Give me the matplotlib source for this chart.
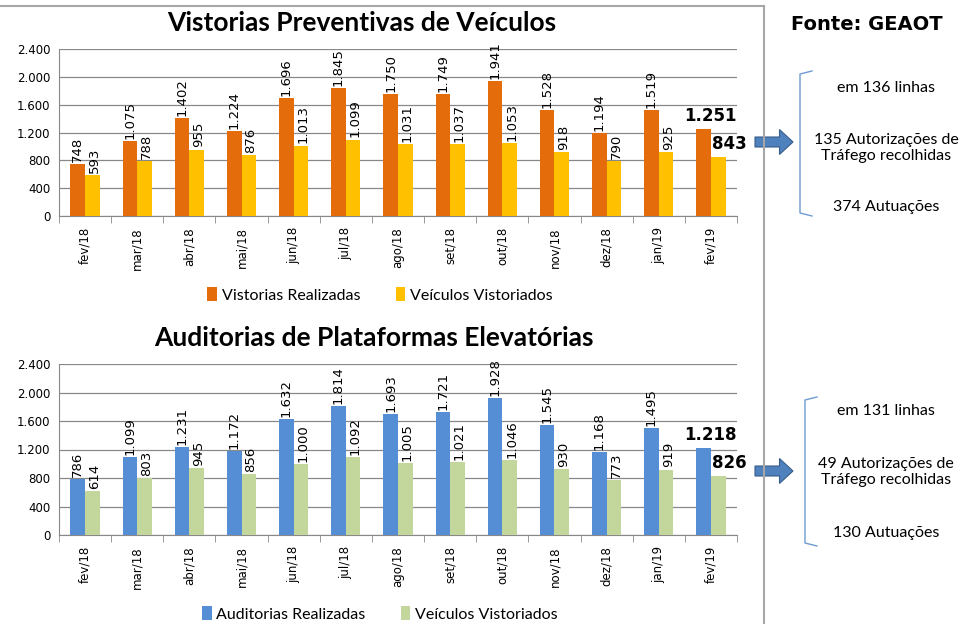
import matplotlib
matplotlib.use("Agg")
import matplotlib.pyplot as plt
import numpy as np

# Dados
meses = ["fev/18", "mar/18", "abr/18", "mai/18", "jun/18", "jul/18", "ago/18",
         "set/18", "out/18", "nov/18", "dez/18", "jan/19", "fev/19"]

vistorias_realizadas = [748, 1075, 1402, 1224, 1696, 1845, 1750, 1749, 1941, 1528, 1194, 1519, 1251]
veiculos_vistoriados_1 = [593, 788, 955, 876, 1013, 1099, 1031, 1037, 1053, 918, 790, 925, 843]

auditorias_realizadas = [786, 1099, 1231, 1172, 1632, 1814, 1693, 1721, 1928, 1545, 1168, 1495, 1218]
veiculos_vistoriados_2 = [614, 803, 945, 856, 1000, 1092, 1005, 1021, 1046, 930, 773, 919, 826]

textos_1 = ["em 136 linhas", "135 Autorizações de\nTráfego recolhidas", "374 Autuações"]
textos_2 = ["em 131 linhas", "49 Autorizações de\nTráfego recolhidas", "130 Autuações"]

W, H = 964, 624
fig = plt.figure(figsize=(W / 100, H / 100), dpi=100)
fig.patch.set_facecolor("white")


def fx(px):
    return px / W


def fy(py):
    return 1 - py / H


def fmt(v):
    return f"{v:,}".replace(",", ".")


def painel(top_px, bottom_px, titulo, tit_x, s1, s2, c1, c2, nomes, leg_y):
    ax = fig.add_axes([fx(59), fy(bottom_px), fx(737) - fx(59), fy(top_px) - fy(bottom_px)])
    x = np.arange(len(meses))
    w = 0.28
    ax.bar(x - w / 2, s1, w, color=c1, label=nomes[0], zorder=3)
    ax.bar(x + w / 2, s2, w, color=c2, label=nomes[1], zorder=3)
    n = len(meses)
    for i in range(n - 1):
        ax.annotate(fmt(s1[i]), (x[i] - w / 2, s1[i]), xytext=(0, 1.5), textcoords="offset points",
                    rotation=90, ha="center", va="bottom", fontsize=9.5)
        ax.annotate(fmt(s2[i]), (x[i] + w / 2, s2[i]), xytext=(1.5, 1.5), textcoords="offset points",
                    rotation=90, ha="center", va="bottom", fontsize=9.5)
    # últimos valores em destaque
    ax.annotate(fmt(s1[-1]), (x[-1] - w / 2, s1[-1]), xytext=(5, 3), textcoords="offset points",
                ha="center", va="bottom", fontsize=12, fontweight="bold")
    ax.annotate(fmt(s2[-1]), (x[-1] + w / 2, s2[-1]), xytext=(8, 3), textcoords="offset points",
                ha="center", va="bottom", fontsize=12, fontweight="bold")

    ax.set_xlim(-0.5, n - 0.5)
    ax.set_ylim(0, 2400)
    ax.set_yticks(range(0, 2401, 400))
    ax.set_yticklabels([fmt(v) for v in range(0, 2401, 400)], fontsize=8.5)
    ax.set_xticks(x)
    ax.set_xticklabels(meses, rotation=90, fontsize=8.5)
    ax.set_xticks(np.arange(-0.5, n, 1), minor=True)
    ax.tick_params(axis="x", which="major", length=0, pad=8)
    ax.tick_params(axis="x", which="minor", length=5, color="#888888", direction="out")
    ax.tick_params(axis="y", length=0, pad=6)
    ax.grid(axis="y", color="#888888", linewidth=0.9, zorder=0)
    ax.set_axisbelow(True)
    for s in ["top", "right"]:
        ax.spines[s].set_visible(False)
    ax.spines["left"].set_color("#888888")
    ax.spines["bottom"].set_color("#888888")

    fig.text(fx(tit_x), fy(top_px - 26), titulo, ha="center", va="center",
             fontsize=19, fontweight="bold", family="Lato")
    fig.legend(handles=ax.patches[:1] + ax.patches[n:n + 1], labels=nomes,
               loc="center", bbox_to_anchor=(fx(380), fy(leg_y)), ncol=2, frameon=False,
               handlelength=0.6, handleheight=1.0, columnspacing=2.2,
               handletextpad=0.3, prop={"family": "Lato", "size": 11.5})
    return ax


painel(49, 216, "Vistorias Preventivas de Veículos", 362, vistorias_realizadas, veiculos_vistoriados_1,
       "#E46C0A", "#FFC000", ["Vistorias Realizadas", "Veículos Vistoriados"], 295)
painel(364, 535, "Auditorias de Plataformas Elevatórias", 374, auditorias_realizadas, veiculos_vistoriados_2,
       "#558ED5", "#C3D69B", ["Auditorias Realizadas", "Veículos Vistoriados"], 614)

# moldura cinza
fig.add_artist(plt.Line2D([0, fx(764)], [fy(6), fy(6)], color="#A6A6A6", linewidth=1.5))
fig.add_artist(plt.Line2D([fx(764), fx(764)], [fy(6), 0], color="#A6A6A6", linewidth=1.5))

fig.text(fx(867), fy(24), "Fonte: GEAOT", ha="center", va="center", fontsize=14,
         fontweight="bold")


def lateral(y_arrow, br_x, br_top, br_bot, ys, textos):
    fig.add_artist(matplotlib.patches.FancyArrow(fx(755), fy(y_arrow), fx(793) - fx(755), 0,
                                                 width=0.016, head_width=0.040, head_length=0.014,
                                                 length_includes_head=True, color="#4F81BD",
                                                 ec="#385D8A", lw=0.8))
    xs = [fx(br_x + 12), fx(br_x), fx(br_x), fx(br_x + 12)]
    fig.add_artist(plt.Line2D(xs, [fy(br_top), fy(br_top + 3), fy(br_bot - 3), fy(br_bot)],
                              color="#6F9BD1", linewidth=1))
    for yy, t in zip(ys, textos):
        fig.text(fx(886), fy(yy), t, ha="center", va="center", fontsize=11.5,
                 family="Lato", linespacing=1.25)


lateral(142, 800, 71, 216, [88, 148, 207], textos_1)
lateral(471, 805, 397, 546, [411, 472, 533], textos_2)

fig.savefig("out.png", dpi=100)
